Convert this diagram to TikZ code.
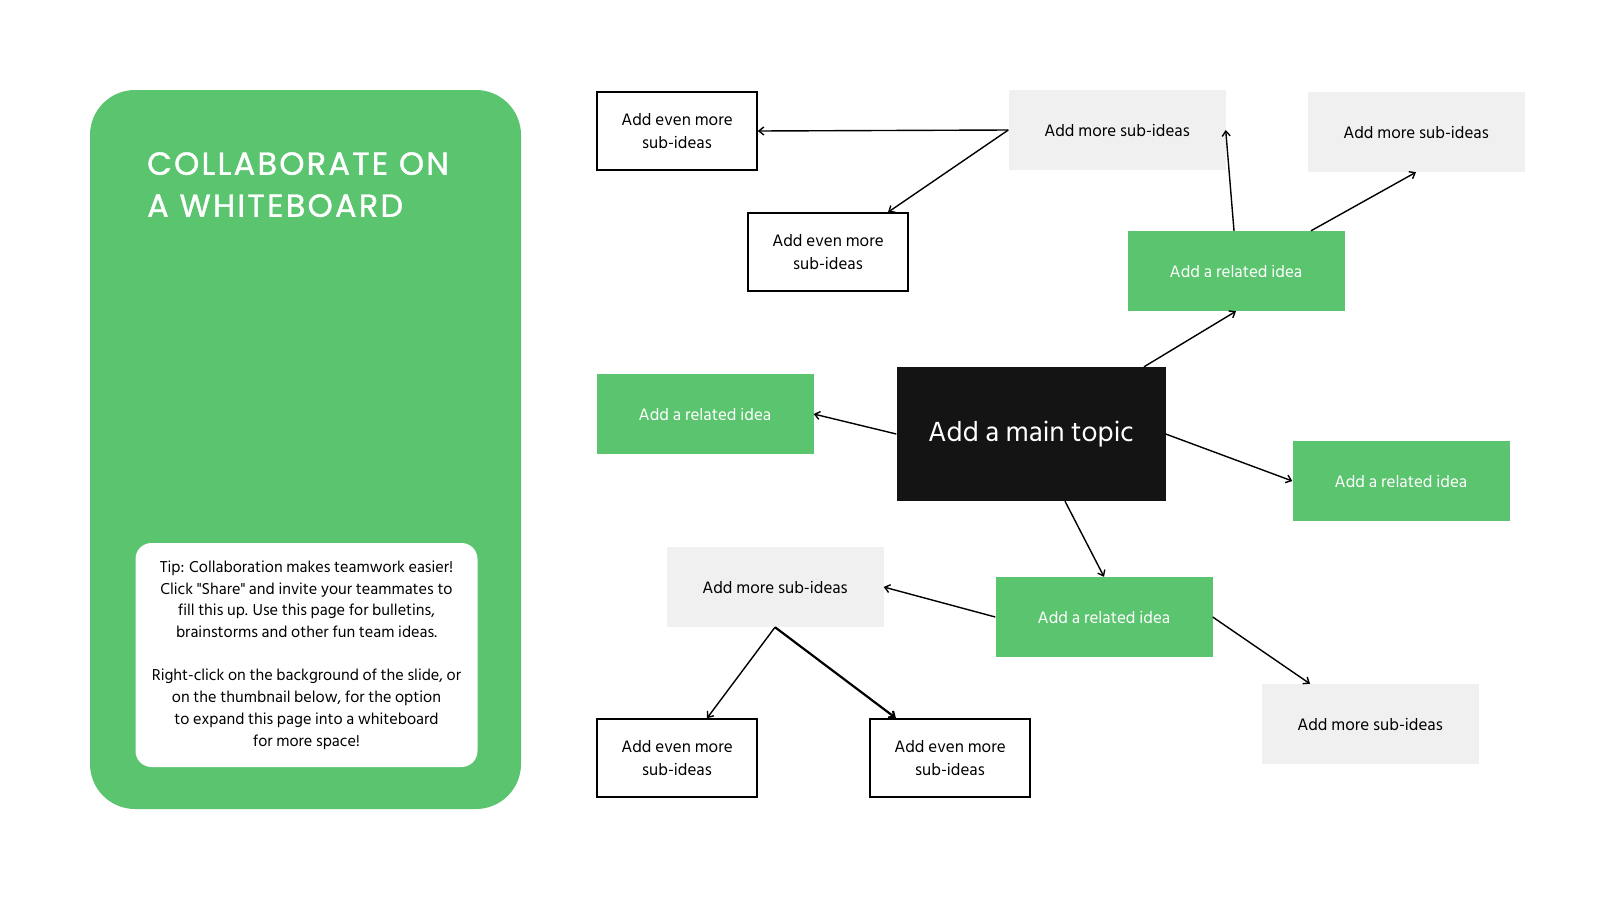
\documentclass[tikz,border=0pt]{standalone}
\usepackage{fontspec}
\setmainfont{Hind Siliguri}
\newfontfamily\plainfont{Hind Siliguri}
\newfontfamily\titlefont[LetterSpace=7,FakeBold=1.2]{Poppins}
\usetikzlibrary{arrows.meta}
\definecolor{leaf}{HTML}{5BC46F}
\definecolor{paper}{HTML}{F0F0F0}
\definecolor{ink}{HTML}{141414}
\begin{document}
\begin{tikzpicture}[x=1pt,y=-1pt,
  base/.style={minimum width=217pt,minimum height=80pt,inner sep=0pt,align=center,font=\fontsize{17}{23}\selectfont},
  greenbox/.style={base,fill=leaf,text=white},
  graybox/.style={base,fill=paper,text=black},
  evenbox/.style={base,draw=black,line width=1.5pt,minimum width=160pt,minimum height=78pt,fill=white},
  conn/.style={-{Straight Barb[length=5pt,width=8pt]},line width=1.4pt}
]
\fill[white] (0,0) rectangle (1600,900);
\useasboundingbox (0,0) rectangle (1600,900);

% left panel
\node[fill=leaf,rounded corners=45pt,minimum width=431pt,minimum height=719pt,inner sep=0pt] (panel) at (305.5,449.5) {};
\node[anchor=north west,inner sep=0pt,text=white,align=left,font=\titlefont\fontsize{32}{42}\selectfont] (title) at (147,152) {COLLABORATE ON\\A WHITEBOARD};
\node[fill=white,rounded corners=16pt,minimum width=342pt,minimum height=224pt,inner sep=0pt] (tipbox) at (306.5,655) {};
\node[align=center,inner sep=0pt,font=\plainfont\fontsize{16.2}{21.7}\selectfont] (tip) at (306.5,655)
  {Tip: Collaboration makes teamwork easier!\\
   Click "Share" and invite your teammates to\\
   fill this up. Use this page for bulletins,\\
   brainstorms and other fun team ideas.\\[21.7pt]
   Right-click on the background of the slide, or\\
   on the thumbnail below, for the option\\
   to expand this page into a whiteboard\\
   for more space!};

% mind map
\node[fill=ink,text=white,minimum width=269pt,minimum height=134pt,inner sep=0pt,font=\fontsize{28.4}{32}\selectfont] (main) at (1031,434) {Add a main topic};

\node[greenbox] (R1) at (1236,271) {Add a related idea};
\node[greenbox] (R2) at (705,414) {Add a related idea};
\node[greenbox] (R3) at (1401,481) {Add a related idea};
\node[greenbox] (R4) at (1104,617) {Add a related idea};

\node[graybox] (M1) at (1117,130) {Add more sub-ideas};
\node[graybox] (M2) at (1416,132) {Add more sub-ideas};
\node[graybox] (M3) at (775,587) {Add more sub-ideas};
\node[graybox] (M4) at (1370,724) {Add more sub-ideas};

\node[evenbox] (E1) at (677,131) {Add even more\\sub-ideas};
\node[evenbox] (E2) at (828,252) {Add even more\\sub-ideas};
\node[evenbox] (E3) at (677,758) {Add even more\\sub-ideas};
\node[evenbox] (E4) at (950,758) {Add even more\\sub-ideas};

% connectors
\draw[conn] (M1.west) -- (E1.east);
\draw[conn] (M1.west) -- ([xshift=60pt]E2.north);
\draw[conn] ([xshift=-2pt]R1.north) -- (M1.east);
\draw[conn] ([xshift=75pt]R1.north) -- (M2.south);
\draw[conn] ([xshift=113pt]main.north) -- (R1.south);
\draw[conn] (main.west) -- (R2.east);
\draw[conn] (main.east) -- (R3.west);
\draw[conn] ([xshift=34pt]main.south) -- (R4.north);
\draw[conn] (R4.west) -- (M3.east);
\draw[conn] (R4.east) -- ([xshift=-60pt]M4.north);
\draw[conn] (M3.south) -- ([xshift=30pt]E3.north);
\draw[conn,line width=2.2pt] (M3.south) -- ([xshift=-54pt]E4.north);
\end{tikzpicture}
\end{document}
